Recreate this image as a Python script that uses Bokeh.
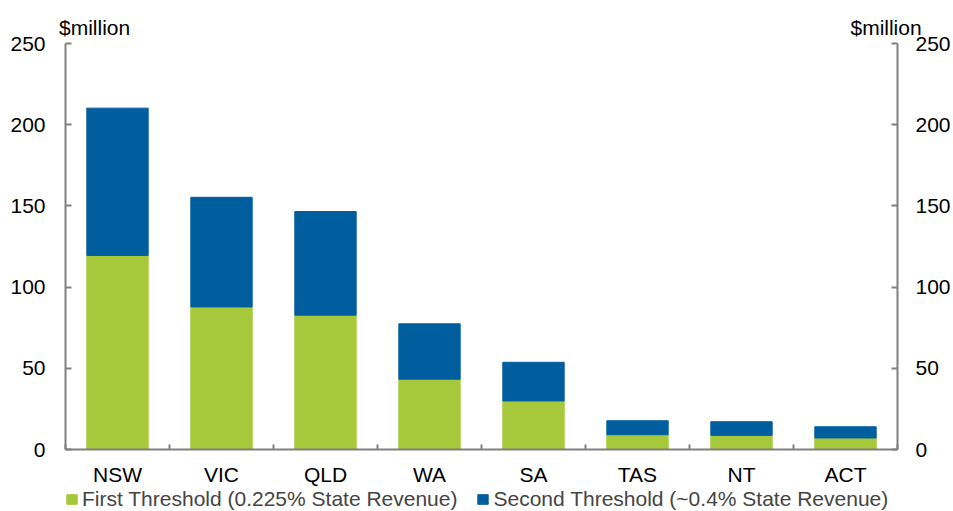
from bokeh.plotting import figure
from bokeh.layouts import column
from bokeh.models import (LinearAxis, FixedTicker, Range1d, Legend,
                          LegendItem, ColumnDataSource)
from bokeh.embed import file_html
from bokeh.resources import INLINE

# ---- data ----
states = ["NSW", "VIC", "QLD", "WA", "SA", "TAS", "NT", "ACT"]
first_threshold = [119.5, 87.8, 82.7, 43.3, 29.9, 9.1, 8.7, 7.1]
second_threshold = [90.7, 67.5, 63.8, 34.1, 23.8, 8.6, 8.4, 6.9]
y_ticks = [0, 50, 100, 150, 200, 250]
series_names = ["First Threshold (0.225% State Revenue)",
                "Second Threshold (~0.4% State Revenue)"]
unit_label = "$million"

colors = ["#A6C83B", "#005E9E"]
FONT = "Liberation Sans"
FS = "21px"
AXIS_COLOR = "#808080"

xpos = list(range(1, len(states) + 1))
src = ColumnDataSource(dict(x=xpos, first=first_threshold, second=second_threshold))

W = 953
MAIN_H = 488
LEG_H = 511 - MAIN_H

p = figure(width=W, height=MAIN_H, output_backend="svg", toolbar_location=None,
           x_range=Range1d(0.5, len(states) + 0.5), y_range=Range1d(y_ticks[0], y_ticks[-1]),
           x_axis_type=None, y_axis_type=None,
           min_border_left=65, min_border_right=55, min_border_top=43, min_border_bottom=38)
p.outline_line_color = None
p.background_fill_color = "white"

rs = p.vbar_stack(["first", "second"], x="x", width=0.59, color=colors, source=src)


def style(ax):
    ax.axis_line_color = AXIS_COLOR
    ax.axis_line_width = 2
    ax.major_tick_line_color = AXIS_COLOR
    ax.major_tick_line_width = 2
    ax.minor_tick_line_color = AXIS_COLOR
    ax.minor_tick_line_width = 2
    ax.major_label_text_font = FONT
    ax.major_label_text_font_size = FS
    ax.major_label_text_color = "black"


left = LinearAxis(ticker=FixedTicker(ticks=y_ticks), major_tick_in=6, major_tick_out=0,
                  minor_tick_in=0, minor_tick_out=0, major_label_standoff=20)
right = LinearAxis(ticker=FixedTicker(ticks=y_ticks), major_tick_in=6, major_tick_out=0,
                   minor_tick_in=0, minor_tick_out=0, major_label_standoff=18)
bounds = [x - 0.5 for x in xpos] + [xpos[-1] + 0.5]
bottom = LinearAxis(ticker=FixedTicker(ticks=xpos, minor_ticks=bounds),
                    major_label_overrides={x: s for x, s in zip(xpos, states)},
                    major_tick_in=0, major_tick_out=0, minor_tick_in=5, minor_tick_out=0,
                    major_label_standoff=13)
# unit labels above the left and right value axes
unit_pos = [p.x_range.start + 0.28, p.x_range.end - 0.11]
top = LinearAxis(ticker=FixedTicker(ticks=unit_pos, minor_ticks=[]),
                 major_label_overrides={u: unit_label for u in unit_pos},
                 major_tick_in=0, major_tick_out=0, minor_tick_in=0, minor_tick_out=0,
                 major_label_standoff=5)
for ax in (left, right, bottom, top):
    style(ax)
top.axis_line_color = None
top.major_tick_line_color = None
top.minor_tick_line_color = None
p.add_layout(left, "left")
p.add_layout(right, "right")
p.add_layout(bottom, "below")
p.add_layout(top, "above")

# ---- legend strip below the chart ----
lf = figure(width=W, height=LEG_H, output_backend="svg", toolbar_location=None,
            x_axis_type=None, y_axis_type=None, min_border=0,
            x_range=Range1d(0, 1), y_range=Range1d(0, 1))
lf.outline_line_color = None
lrs = lf.vbar_stack(["first", "second"], x="x", width=0.59, color=colors, source=src,
                    visible=False)
legend = Legend(items=[LegendItem(label=series_names[i], renderers=[lrs[i]]) for i in range(2)],
                orientation="horizontal", location=(0, 0), padding=0, margin=0,
                spacing=19, glyph_width=13, glyph_height=12, label_standoff=4,
                label_text_font=FONT, label_text_font_size=FS,
                inactive_fill_alpha=0, border_line_color=None, background_fill_alpha=0)
lf.add_layout(legend)

layout = column(p, lf, spacing=0)
open("out.html", "w").write(file_html(layout, INLINE))
